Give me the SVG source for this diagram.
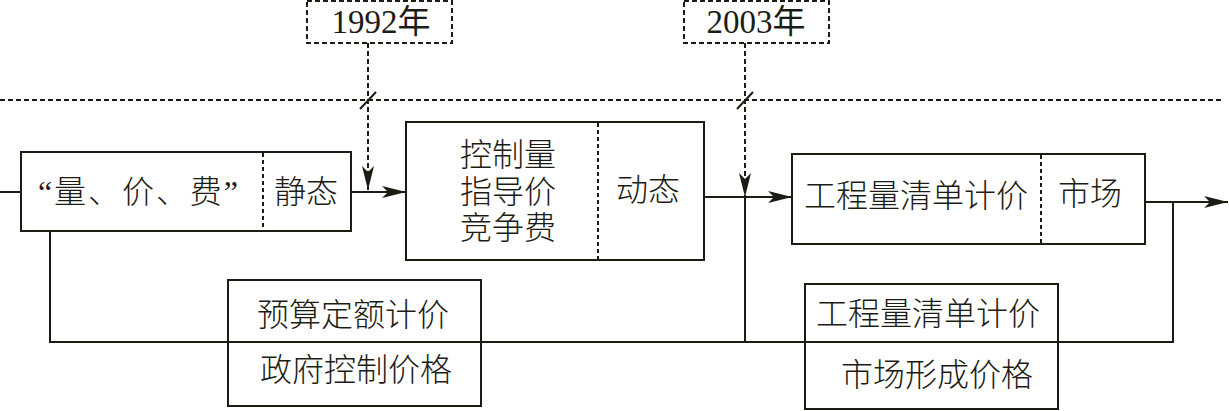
<svg xmlns="http://www.w3.org/2000/svg" width="1229" height="411" viewBox="0 0 1229 411">
<style>
.box{fill:#fff;stroke:#1c1c14;stroke-width:2}
.dbox{fill:#fff;stroke:#1c1c14;stroke-width:2;stroke-dasharray:5,3}
.div{stroke:#1c1c14;stroke-width:2;stroke-dasharray:4,3}
.ln{fill:none;stroke:#1c1c14;stroke-width:2}
.dl{fill:none;stroke:#1c1c14;stroke-width:2;stroke-dasharray:5,3}
text{font-family:"Liberation Serif","Noto Sans CJK SC",serif;font-size:32px;font-weight:300;fill:#1c1c14;text-anchor:middle;dominant-baseline:central}
.yr{font-size:33px;font-weight:400}
</style>
<defs>
<marker id="ah" markerUnits="userSpaceOnUse" markerWidth="24" markerHeight="12" viewBox="0 0 24 12" refX="24" refY="6" orient="auto">
<path d="M0,0 L24,6 L0,12 L6,6 z" fill="#1c1c14"/>
</marker>
</defs>
<g id="timeline">
<line class="dl" x1="0" y1="100" x2="1222" y2="100"/>
</g>
<g id="y1992">
<rect class="dbox" x="307" y="1" width="145" height="42"/>
<text class="yr" x="381" y="22">1992年</text>
</g>
<g id="y2003">
<rect class="dbox" x="684" y="1" width="145" height="42"/>
<text class="yr" x="756" y="22">2003年</text>
</g>
<g id="connectors">
<line class="dl" x1="368" y1="43" x2="368" y2="190" marker-end="url(#ah)"/>
<line class="ln" x1="360" y1="109" x2="376" y2="92"/>
<line class="dl" x1="745" y1="43" x2="745" y2="197" marker-end="url(#ah)"/>
<line class="ln" x1="737" y1="109" x2="753" y2="92"/>
<line class="ln" x1="0" y1="192" x2="21" y2="192"/>
<line class="ln" x1="351" y1="192" x2="406" y2="192" marker-end="url(#ah)"/>
<line class="ln" x1="704" y1="197" x2="792" y2="197" marker-end="url(#ah)"/>
<line class="ln" x1="1145" y1="202" x2="1228" y2="202" marker-end="url(#ah)"/>
<polyline class="ln" points="745,197 745,342"/>
<polyline class="ln" points="50,231 50,342 1173,342 1173,202"/>
</g>
<g id="n1">
<rect class="box" x="21" y="152" width="330" height="79"/>
<line class="div" x1="263" y1="153" x2="263" y2="230"/>
<text x="138" y="192" textLength="200" lengthAdjust="spacing">“量、价、费”</text>
<text x="306" y="192">静态</text>
</g>
<g id="n2">
<rect class="box" x="406" y="122" width="298" height="138"/>
<line class="div" x1="598" y1="123" x2="598" y2="259"/>
<text x="508" y="155">控制量</text>
<text x="508" y="192">指导价</text>
<text x="508" y="228">竞争费</text>
<text x="648" y="190">动态</text>
</g>
<g id="n3">
<rect class="box" x="792" y="154" width="353" height="90"/>
<line class="div" x1="1041" y1="155" x2="1041" y2="243"/>
<text x="916" y="196">工程量清单计价</text>
<text x="1090" y="194">市场</text>
</g>
<g id="n4">
<rect class="ln" x="228" y="280" width="253" height="126"/>
<line class="ln" x1="228" y1="342" x2="481" y2="342"/>
<text x="353" y="315">预算定额计价</text>
<text x="356" y="370">政府控制价格</text>
</g>
<g id="n5">
<rect class="ln" x="805" y="284" width="253" height="125"/>
<line class="ln" x1="805" y1="342" x2="1058" y2="342"/>
<text x="928" y="314">工程量清单计价</text>
<text x="937" y="375">市场形成价格</text>
</g>
</svg>
